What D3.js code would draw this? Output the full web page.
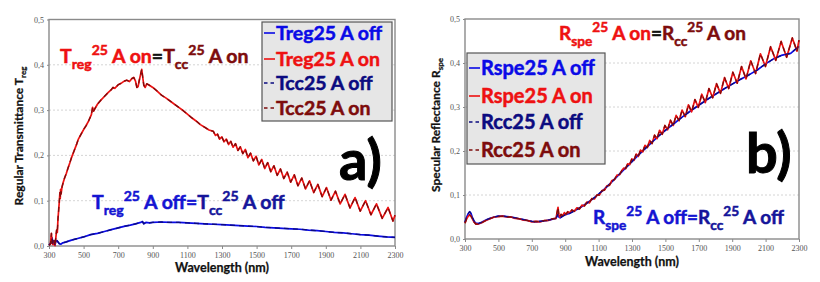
<!DOCTYPE html>
<html><head><meta charset="utf-8">
<script src="https://cdn.jsdelivr.net/npm/d3@7"></script>
<style>body{margin:0;background:#fff}svg text{white-space:pre}</style>
</head><body>
<svg id="c" width="820" height="282"></svg>
<script>
const xTicks = [300, 500, 700, 900, 1100, 1300, 1500, 1700, 1900, 2100, 2300];
const yTicks = [0, 0.1, 0.2, 0.3, 0.4, 0.5];

// Panel a) regular transmittance [wavelength nm, value]
const tregOff = [[300,0.002],[310,0.006],[318,0.018],[322,0.004],[328,0.012],[334,0.003],[340,0.01],[346,0.012],[352,0.009],[360,0.005],[368,0.004],[380,0.007],[400,0.009],[430,0.013],[460,0.016],[500,0.02],[540,0.025],[580,0.028],[620,0.032],[660,0.036],[700,0.04],[740,0.044],[770,0.046],[800,0.049],[830,0.052],[840,0.054],[848,0.049],[860,0.052],[880,0.051],[900,0.052],[950,0.053],[1000,0.052],[1050,0.052],[1100,0.051],[1150,0.05],[1200,0.049],[1250,0.048],[1300,0.047],[1350,0.046],[1400,0.045],[1450,0.044],[1500,0.043],[1550,0.041],[1600,0.04],[1650,0.039],[1700,0.038],[1750,0.037],[1800,0.035],[1850,0.034],[1900,0.032],[1950,0.03],[2000,0.029],[2050,0.027],[2100,0.025],[2150,0.024],[2200,0.022],[2250,0.02],[2300,0.019]];
const tregOn = [[300,0.002],[308,0.004],[314,0.028],[318,0.006],[324,0.003],[330,0.012],[335,0.001],[340,0.02],[344,0.035],[348,0.03],[352,0.06],[356,0.08],[360,0.1],[363,0.118],[365,0.105],[367,0.125],[370,0.115],[375,0.13],[382,0.14],[390,0.15],[400,0.16],[410,0.172],[420,0.183],[430,0.195],[440,0.205],[450,0.215],[460,0.225],[470,0.236],[480,0.243],[490,0.25],[500,0.257],[515,0.266],[530,0.277],[545,0.29],[552,0.306],[558,0.298],[565,0.303],[580,0.313],[600,0.322],[620,0.33],[640,0.338],[660,0.345],[670,0.35],[680,0.348],[700,0.356],[720,0.36],[735,0.364],[750,0.366],[765,0.363],[780,0.37],[790,0.372],[800,0.364],[808,0.35],[815,0.352],[822,0.366],[830,0.38],[836,0.39],[842,0.372],[848,0.355],[856,0.35],[865,0.358],[880,0.355],[900,0.35],[925,0.342],[950,0.333],[975,0.327],[1000,0.32],[1025,0.313],[1050,0.306],[1075,0.299],[1100,0.291],[1125,0.283],[1150,0.276],[1175,0.268],[1200,0.262],[1225,0.256],
[1250,0.253],[1262,0.244],[1274,0.247],[1286,0.236],[1299,0.241],[1312,0.23],[1325,0.236],[1338,0.224],[1351,0.231],[1364,0.218],[1378,0.226],[1392,0.211],[1406,0.219],[1420,0.204],[1435,0.213],[1450,0.195],[1465,0.205],[1481,0.188],[1497,0.198],[1513,0.179],[1530,0.191],[1547,0.171],[1564,0.184],[1582,0.164],[1600,0.177],[1619,0.156],[1638,0.17],[1657,0.149],[1677,0.163],[1697,0.141],[1718,0.157],[1739,0.133],[1761,0.15],[1783,0.126],[1806,0.144],[1830,0.118],[1854,0.136],[1879,0.109],[1904,0.129],[1930,0.101],[1956,0.121],[1983,0.093],[2011,0.114],[2040,0.084],[2069,0.107],[2099,0.077],[2130,0.1],[2161,0.069],[2193,0.093],[2226,0.061],[2260,0.085],[2288,0.055],[2300,0.068]];
const tccOff = tregOff;
const tccOn = tregOn;

// Panel b) specular reflectance [wavelength nm, value]
const rspeOff = [[300,0.038],[310,0.05],[320,0.058],[328,0.062],[336,0.058],[345,0.048],[355,0.04],[365,0.036],[380,0.035],[400,0.038],[425,0.043],[450,0.047],[475,0.05],[500,0.052],[525,0.052],[550,0.051],[575,0.05],[600,0.048],[625,0.046],[650,0.044],[675,0.042],[700,0.04],[725,0.039],[750,0.04],[775,0.041],[800,0.043],[825,0.045],[845,0.047],[855,0.056],[862,0.05],[870,0.048],[885,0.052],[900,0.055],[925,0.058],[950,0.063],[975,0.068],[1000,0.074],[1025,0.08],[1050,0.087],[1075,0.094],[1100,0.102],[1125,0.11],[1150,0.119],[1175,0.128],[1200,0.138],[1250,0.157],[1300,0.176],[1350,0.195],[1400,0.213],[1450,0.231],[1500,0.247],[1550,0.262],[1600,0.277],[1650,0.291],[1700,0.304],[1750,0.317],[1800,0.329],[1850,0.341],[1900,0.352],[1950,0.363],[2000,0.373],[2050,0.384],[2100,0.398],[2150,0.41],[2200,0.418],[2250,0.422],[2300,0.438]];
const rspeOn = [[300,0.036],[310,0.046],[320,0.052],[328,0.055],[336,0.052],[345,0.045],[355,0.038],[365,0.034],[380,0.034],[400,0.037],[425,0.042],[450,0.046],[475,0.05],[500,0.051],[525,0.052],[550,0.05],[575,0.05],[600,0.047],[625,0.046],[650,0.043],[675,0.042],[700,0.039],[725,0.04],[750,0.039],[775,0.042],[800,0.042],[825,0.046],[845,0.047],[852,0.062],[857,0.072],[862,0.055],[868,0.05],[875,0.056],[885,0.053],[895,0.06],[905,0.056],[915,0.062],[925,0.059],[940,0.066],[955,0.063],[970,0.071],[985,0.068],[1000,0.077],[1015,0.075],[1030,0.084],[1045,0.082],[1060,0.092],[1075,0.091],[1090,0.1],[1105,0.1],[1120,0.11],[1135,0.111],[1150,0.121],[1165,0.122],[1180,0.133],[1195,0.135],[1210,0.145],[1225,0.146],[1238,0.155],
[1250,0.161],[1262,0.16],[1274,0.171],[1286,0.169],[1299,0.182],[1312,0.179],[1325,0.193],[1338,0.188],[1351,0.202],[1364,0.198],[1378,0.213],[1392,0.208],[1406,0.224],[1420,0.217],[1435,0.236],[1450,0.228],[1465,0.247],[1481,0.238],[1497,0.258],[1513,0.248],[1530,0.27],[1547,0.258],[1564,0.281],[1582,0.269],[1600,0.293],[1619,0.278],[1638,0.305],[1657,0.289],[1677,0.317],[1697,0.299],[1718,0.329],[1739,0.31],[1761,0.342],[1783,0.321],[1806,0.353],[1830,0.331],[1854,0.367],[1879,0.342],[1904,0.379],[1930,0.354],[1956,0.392],[1983,0.364],[2011,0.405],[2040,0.376],[2069,0.421],[2099,0.392],[2130,0.437],[2161,0.406],[2193,0.449],[2226,0.413],[2260,0.457],[2288,0.427],[2300,0.452]];
const rccOff = rspeOff;
const rccOn = rspeOn;

const legendA = ["Treg25 A off", "Treg25 A on", "Tcc25 A off", "Tcc25 A on"];
const legendB = ["Rspe25 A off", "Rspe25 A on", "Rcc25 A off", "Rcc25 A on"];

const C = {blue: "#0a0ae6", red: "#ee1111", navy: "#0b0b80", dred: "#7d0c0c", offTxt: "#1414d2", offTxt2: "#15159a"};
const FONT = "Lato, 'Open Sans', sans-serif";
const svg = d3.select("#c");
svg.append("rect").attr("width", 820).attr("height", 282).attr("fill", "#fff");

function rich(sel, x, y, segs, base) {
  const t = sel.append("text").attr("x", x).attr("y", y)
    .attr("font-family", FONT).attr("font-weight", "bold").attr("font-size", base);
  let cur = 0;
  segs.forEach(([s, color, kind]) => {
    const target = kind === "sub" ? base * 0.32 : kind === "sup" ? -base * 0.42 : 0;
    const size = kind ? base * 0.72 : base;
    t.append("tspan").attr("dy", target - cur).attr("font-size", size).attr("fill", color)
      .attr("stroke", color).attr("stroke-width", 0.5).text(s);
    cur = target;
  });
  return t;
}

function panel(cfg) {
  const g = svg.append("g");
  const x = d3.scaleLinear().domain([300, 2300]).range([cfg.x0, cfg.x1]);
  const y = d3.scaleLinear().domain([0, 0.5]).range([cfg.y0, cfg.y1]);

  g.selectAll("line.grid").data(yTicks.filter(v => v > 0 && v < 0.5)).join("line")
    .attr("x1", cfg.x0).attr("x2", cfg.x1).attr("y1", d => y(d)).attr("y2", d => y(d))
    .attr("stroke", "#c9c9c9").attr("stroke-width", 0.8).attr("stroke-dasharray", "2,2");

  const xa = g.append("g").attr("transform", `translate(0,${cfg.y0})`)
    .call(d3.axisBottom(x).tickValues(xTicks).tickSize(3).tickPadding(3).tickFormat(d3.format("d")));
  const ya = g.append("g").attr("transform", `translate(${cfg.x0},0)`)
    .call(d3.axisLeft(y).tickValues(yTicks).tickSize(2).tickPadding(3).tickFormat(d => d3.format(".1f")(d).replace(".", ",")));
  [xa, ya].forEach(a => {
    a.select(".domain").remove();
    a.selectAll("line").attr("stroke", "#8a8a8a");
    a.selectAll("text").attr("font-family", "'Liberation Serif', serif").attr("font-size", 8).attr("fill", "#555");
  });

  g.append("rect").attr("x", cfg.x0).attr("y", cfg.y1).attr("width", cfg.x1 - cfg.x0).attr("height", cfg.y0 - cfg.y1)
    .attr("fill", "none").attr("stroke", "#8a8a8a").attr("stroke-width", 1.4);

  const line = d3.line().x(d => x(d[0])).y(d => y(d[1]));
  cfg.series.forEach(s => {
    g.append("path").datum(s.data).attr("d", line).attr("fill", "none")
      .attr("stroke", s.color).attr("stroke-width", s.dash ? 1.3 : 1.7)
      .attr("stroke-dasharray", s.dash ? "5,4" : null).attr("stroke-linejoin", "round");
  });

  // axis titles
  g.append("text").attr("x", (cfg.x0 + cfg.x1) / 2).attr("y", cfg.xTitleY).attr("text-anchor", "middle")
    .attr("font-family", FONT).attr("font-weight", "bold").attr("font-size", 12.5).attr("fill", "#111")
    .attr("stroke", "#111").attr("stroke-width", 0.25).text("Wavelength (nm)");
  const yt = g.append("text").attr("transform", `translate(${cfg.yTitleX},${cfg.yTitleCY}) rotate(-90)`)
    .attr("text-anchor", "middle").attr("font-family", FONT).attr("font-weight", "bold").attr("font-size", 12)
    .attr("fill", "#111").attr("stroke", "#111").attr("stroke-width", 0.25);
  yt.append("tspan").text(cfg.yTitle[0]);
  yt.append("tspan").attr("dy", 3).attr("font-size", 8).text(cfg.yTitle[1]);

  // legend
  const L = cfg.legend;
  g.append("rect").attr("x", L.x).attr("y", L.y).attr("width", L.w).attr("height", L.h)
    .attr("fill", "#e6e6e6").attr("stroke", "#555").attr("stroke-width", 1.2);
  cfg.series.forEach((s, i) => {
    const cy = L.rows[i];
    g.append("line").attr("x1", L.x + 2).attr("x2", L.x + 13).attr("y1", cy).attr("y2", cy)
      .attr("stroke", s.color).attr("stroke-width", 1.6).attr("stroke-dasharray", s.dash ? "3.5,3" : null);
    g.append("text").attr("x", L.x + 14).attr("y", cy + 7).attr("font-family", FONT).attr("font-weight", "bold")
      .attr("font-size", L.fs).attr("fill", s.color).attr("stroke", s.color).attr("stroke-width", 0.5).text(s.name);
  });

  cfg.notes.forEach(n => rich(g, n.x, n.y, n.segs, n.fs));
  g.append("text").attr("x", cfg.tag.x).attr("y", cfg.tag.y).attr("font-family", FONT).attr("font-weight", "bold")
    .attr("font-size", 56).attr("fill", "#000").attr("stroke", "#000").attr("stroke-width", 1).text(cfg.tag.t);
}

panel({
  x0: 49, x1: 395, y0: 246, y1: 19.5, xTitleY: 272, yTitleX: 23, yTitleCY: 136,
  yTitle: ["Regular Transmittance T", "reg"],
  series: [
    {name: legendA[0], data: tregOff, color: C.blue},
    {name: legendA[1], data: tregOn, color: C.red},
    {name: legendA[2], data: tccOff, color: C.navy, dash: true},
    {name: legendA[3], data: tccOn, color: C.dred, dash: true}
  ],
  legend: {x: 262, y: 22, w: 130, h: 99, rows: [33, 59, 83, 108], fs: 19.5},
  notes: [
    {x: 60, y: 63, fs: 19.5, segs: [["T", C.red], ["reg", C.red, "sub"], ["25", C.red, "sup"], [" A on", C.red], ["=", "#111"], ["T", C.dred], ["cc", C.dred, "sub"], ["25", C.dred, "sup"], [" A on", C.dred]]},
    {x: 92, y: 209, fs: 19.5, segs: [["T", C.offTxt], ["reg", C.offTxt, "sub"], ["25", C.offTxt, "sup"], [" A off=", C.offTxt], ["T", C.offTxt2], ["cc", C.offTxt2, "sub"], ["25", C.offTxt2, "sup"], [" A off", C.offTxt2]]}
  ],
  tag: {x: 339, y: 180, t: "a)"}
});

panel({
  x0: 465, x1: 799, y0: 239, y1: 19, xTitleY: 266, yTitleX: 440, yTitleCY: 125,
  yTitle: ["Specular Reflectance R", "spe"],
  series: [
    {name: legendB[0], data: rspeOff, color: C.blue},
    {name: legendB[1], data: rspeOn, color: C.red},
    {name: legendB[2], data: rccOff, color: C.navy, dash: true},
    {name: legendB[3], data: rccOn, color: C.dred, dash: true}
  ],
  legend: {x: 467, y: 53, w: 138, h: 111, rows: [68, 96, 122, 150], fs: 20},
  notes: [
    {x: 559, y: 40, fs: 19, segs: [["R", C.red], ["spe", C.red, "sub"], ["25", C.red, "sup"], [" A on", C.red], ["=", "#111"], ["R", C.dred], ["cc", C.dred, "sub"], ["25", C.dred, "sup"], [" A on", C.dred]]},
    {x: 593, y: 224, fs: 19, segs: [["R", C.offTxt], ["spe", C.offTxt, "sub"], ["25", C.offTxt, "sup"], [" A off=", C.offTxt], ["R", C.offTxt2], ["cc", C.offTxt2, "sub"], ["25", C.offTxt2, "sup"], [" A off", C.offTxt2]]}
  ],
  tag: {x: 746, y: 173, t: "b)"}
});
</script>
</body></html>
